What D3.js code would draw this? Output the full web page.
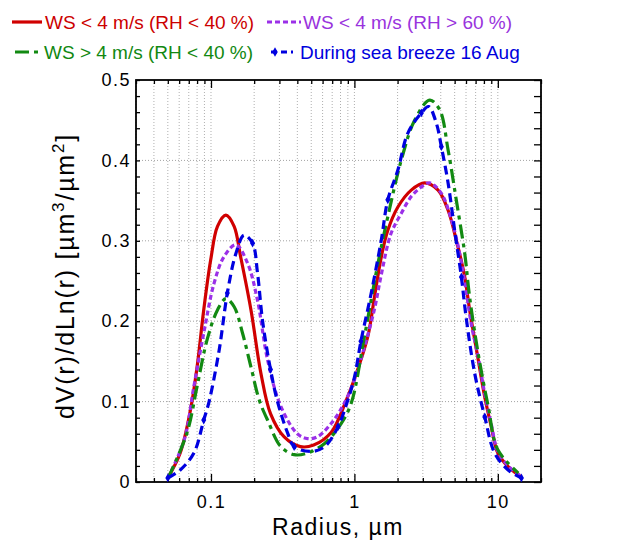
<!DOCTYPE html>
<html>
<head>
<meta charset="utf-8">
<script src="https://cdn.jsdelivr.net/npm/d3@7"></script>
<style>
  body { margin: 0; background: #fff; }
</style>
</head>
<body>
<svg id="chart" width="618" height="542"></svg>
<script>
// radius (um) and dV(r)/dLn(r), one pair of arrays per curve
const redR = [0.05, 0.061, 0.072, 0.080, 0.089, 0.0995, 0.111, 0.127, 0.145, 0.161, 0.19, 0.223, 0.26, 0.324, 0.42, 0.52, 0.69, 0.87, 1.0, 1.24, 1.38, 1.54, 1.71, 2.01, 2.49, 3.09, 3.83, 4.5, 5.13, 5.88, 6.36, 7.3, 8.1, 9.0, 10, 11.8, 14.6];
const redV = [0.005, 0.036, 0.090, 0.143, 0.214, 0.276, 0.318, 0.332, 0.318, 0.280, 0.214, 0.135, 0.085, 0.056, 0.044, 0.046, 0.062, 0.100, 0.128, 0.181, 0.230, 0.280, 0.313, 0.342, 0.363, 0.372, 0.363, 0.338, 0.301, 0.255, 0.214, 0.152, 0.106, 0.069, 0.036, 0.019, 0.006];

const purpleR = [0.05, 0.065, 0.076, 0.089, 0.105, 0.123, 0.149, 0.18, 0.211, 0.248, 0.307, 0.40, 0.47, 0.55, 0.69, 0.85, 1.0, 1.175, 1.38, 1.54, 1.8, 2.12, 2.49, 2.93, 3.35, 4.04, 4.75, 5.29, 5.9, 6.55, 7.3, 8.1, 9.0, 10, 11.8, 14.6];
const purpleV = [0.005, 0.052, 0.119, 0.185, 0.247, 0.280, 0.295, 0.272, 0.226, 0.152, 0.094, 0.060, 0.054, 0.056, 0.073, 0.098, 0.127, 0.168, 0.215, 0.258, 0.309, 0.334, 0.355, 0.367, 0.372, 0.359, 0.326, 0.293, 0.247, 0.195, 0.155, 0.110, 0.072, 0.038, 0.020, 0.007];

const greenR = [0.05, 0.068, 0.080, 0.094, 0.111, 0.127, 0.145, 0.166, 0.19, 0.217, 0.248, 0.307, 0.38, 0.47, 0.62, 0.81, 0.95, 1.175, 1.46, 1.71, 2.12, 2.63, 3.35, 3.93, 4.5, 5.13, 5.88, 6.36, 7.29, 8.57, 10, 13.9];
const greenV = [0.004, 0.061, 0.119, 0.177, 0.214, 0.228, 0.218, 0.185, 0.143, 0.102, 0.077, 0.044, 0.034, 0.036, 0.048, 0.073, 0.098, 0.181, 0.272, 0.330, 0.400, 0.450, 0.475, 0.463, 0.413, 0.351, 0.284, 0.230, 0.160, 0.094, 0.040, 0.011];

const blueR = [0.05, 0.061, 0.076, 0.089, 0.097, 0.114, 0.130, 0.149, 0.17, 0.195, 0.211, 0.229, 0.26, 0.291, 0.342, 0.38, 0.50, 0.62, 0.77, 0.90, 1.0, 1.11, 1.31, 1.54, 1.71, 2.01, 2.36, 2.93, 3.29, 3.73, 4.04, 4.5, 5.0, 5.57, 6.0, 6.9, 8.11, 9.5, 11.8, 14.6];
const blueV = [0.005, 0.015, 0.036, 0.077, 0.100, 0.164, 0.235, 0.284, 0.307, 0.297, 0.260, 0.200, 0.140, 0.100, 0.061, 0.044, 0.038, 0.044, 0.069, 0.102, 0.130, 0.175, 0.235, 0.301, 0.351, 0.388, 0.434, 0.459, 0.467, 0.446, 0.417, 0.372, 0.313, 0.255, 0.206, 0.135, 0.081, 0.036, 0.015, 0.005];

const seriesNames = ['WS < 4 m/s (RH < 40 %)', 'WS < 4 m/s (RH > 60 %)', 'WS > 4 m/s (RH < 40 %)', 'During sea breeze 16 Aug'];

const xMajor = [0.1, 1, 10];
const yMajor = [0, 0.1, 0.2, 0.3, 0.4, 0.5];

const series = [
  { name: seriesNames[0], r: redR, v: redV, color: '#d00000', dash: null, text: '#cc0000' },
  { name: seriesNames[1], r: purpleR, v: purpleV, color: '#9b30e8', dash: '5,3', text: '#9933dd' },
  { name: seriesNames[2], r: greenR, v: greenV, color: '#128a12', dash: '14,5,4,5', text: '#118811' },
  { name: seriesNames[3], r: blueR, v: blueV, color: '#0000e0', dash: '9,5', text: '#0000dd', markers: true }
];

const svg = d3.select('#chart');
const font = 'Liberation Sans, Arial, Helvetica, sans-serif';

const x = d3.scaleLog().domain([0.03, 20]).range([136, 541]);
const y = d3.scaleLinear().domain([0, 0.5]).range([482, 80]);

// minor ticks of the log axis
const xMinor = [];
[0.01, 0.1, 1, 10].forEach(dec => {
  for (let m = 2; m <= 9; m++) {
    const t = +(dec * m).toPrecision(3);
    if (t >= 0.03 && t <= 20) xMinor.push(t);
  }
});
const yMinor = d3.range(0, 0.501, 0.02).map(d => +d.toFixed(2));

// grid
svg.append('g')
  .selectAll('line')
  .data(xMinor.concat(xMajor))
  .join('line')
  .attr('x1', d => x(d)).attr('x2', d => x(d))
  .attr('y1', 80).attr('y2', 482)
  .attr('stroke', '#9a9a9a')
  .attr('stroke-width', 0.8)
  .attr('stroke-dasharray', '1,2');

svg.append('g')
  .selectAll('line')
  .data([0.1, 0.2, 0.3, 0.4])
  .join('line')
  .attr('x1', 136).attr('x2', 541)
  .attr('y1', d => y(d)).attr('y2', d => y(d))
  .attr('stroke', '#8a8a8a')
  .attr('stroke-width', 0.8)
  .attr('stroke-dasharray', '1,2');

// axes with inward ticks
const styleAxis = g => {
  g.select('.domain').remove();
  g.selectAll('line').attr('stroke', '#000').attr('stroke-width', 1.3);
  g.selectAll('text')
    .attr('font-family', font)
    .attr('font-size', '18px')
    .attr('letter-spacing', '1.5px')
    .attr('fill', '#000');
};

svg.append('g').attr('transform', 'translate(0,482)')
  .call(d3.axisBottom(x).tickValues(xMajor).tickFormat(d3.format('~g')).tickSize(-8).tickPadding(13))
  .call(styleAxis);
svg.append('g').attr('transform', 'translate(0,482)')
  .call(d3.axisBottom(x).tickValues(xMinor).tickFormat('').tickSize(-4))
  .call(styleAxis);
svg.append('g').attr('transform', 'translate(0,80)')
  .call(d3.axisTop(x).tickValues(xMajor).tickFormat('').tickSize(-8))
  .call(styleAxis);
svg.append('g').attr('transform', 'translate(0,80)')
  .call(d3.axisTop(x).tickValues(xMinor).tickFormat('').tickSize(-4))
  .call(styleAxis);

svg.append('g').attr('transform', 'translate(136,0)')
  .call(d3.axisLeft(y).tickValues(yMajor).tickFormat(d3.format('~g')).tickSize(0).tickPadding(5))
  .call(styleAxis);
svg.append('g').attr('transform', 'translate(136,0)')
  .call(d3.axisLeft(y).tickValues(yMinor).tickFormat('').tickSize(-4))
  .call(styleAxis);
svg.append('g').attr('transform', 'translate(541,0)')
  .call(d3.axisRight(y).tickValues(yMinor).tickFormat('').tickSize(-7))
  .call(styleAxis);

svg.append('rect')
  .attr('x', 136).attr('y', 80)
  .attr('width', 405).attr('height', 402)
  .attr('fill', 'none')
  .attr('stroke', '#000')
  .attr('stroke-width', 1.8);

// curves
const line = d3.line()
  .x(d => x(d[0]))
  .y(d => y(d[1]))
  .curve(d3.curveCatmullRom.alpha(0.5));

series.forEach(s => {
  const pts = s.r.map((r, i) => [r, s.v[i]]);
  svg.append('path')
    .datum(pts)
    .attr('d', line)
    .attr('fill', 'none')
    .attr('stroke', s.color)
    .attr('stroke-width', 3.2)
    .attr('stroke-dasharray', s.dash);
  if (s.markers) {
    svg.append('g')
      .selectAll('path')
      .data(pts.filter((d, i) => i % 3 === 0))
      .join('path')
      .attr('transform', d => `translate(${x(d[0])},${y(d[1])})`)
      .attr('d', d3.symbol(d3.symbolDiamond, 22))
      .attr('fill', s.color);
  }
});

// legend
const legendPos = [
  { x1: 12, x2: 42, tx: 45, ly: 22, ty: 29 },
  { x1: 267, x2: 301, tx: 303, ly: 22, ty: 29 },
  { x1: 15, x2: 40, tx: 44, ly: 52, ty: 59 },
  { x1: 271, x2: 293, tx: 300, ly: 52, ty: 59 }
];

const entries = svg.append('g')
  .selectAll('g')
  .data(series)
  .join('g');

entries.append('line')
  .attr('x1', (d, i) => legendPos[i].x1)
  .attr('x2', (d, i) => legendPos[i].x2)
  .attr('y1', (d, i) => legendPos[i].ly)
  .attr('y2', (d, i) => legendPos[i].ly)
  .attr('stroke', d => d.color)
  .attr('stroke-width', 3.2)
  .attr('stroke-dasharray', d => d.dash ? (d.markers ? '6,4' : d.dash) : null);

entries.filter(d => d.markers)
  .append('path')
  .attr('transform', `translate(${legendPos[3].x1 + 4},${legendPos[3].ly})`)
  .attr('d', d3.symbol(d3.symbolDiamond, 26))
  .attr('fill', d => d.color);

entries.append('text')
  .attr('x', (d, i) => legendPos[i].tx)
  .attr('y', (d, i) => legendPos[i].ty)
  .attr('font-family', font)
  .attr('font-size', '19px')
  .attr('fill', d => d.text)
  .text(d => d.name);

// axis titles
svg.append('text')
  .attr('x', 338)
  .attr('y', 535)
  .attr('text-anchor', 'middle')
  .attr('font-family', font)
  .attr('font-size', '23px')
  .attr('letter-spacing', '1.5px')
  .text('Radius, \u00b5m');

const yTitle = svg.append('text')
  .attr('transform', 'translate(74,276) rotate(-90)')
  .attr('text-anchor', 'middle')
  .attr('font-family', font)
  .attr('font-size', '25px')
  .attr('letter-spacing', '1.8px');
yTitle.append('tspan').text('dV(r)/dLn(r) [\u00b5m');
yTitle.append('tspan').attr('font-size', '17px').attr('dy', -10).text('3');
yTitle.append('tspan').attr('dy', 10).text('/\u00b5m');
yTitle.append('tspan').attr('font-size', '17px').attr('dy', -10).text('2');
yTitle.append('tspan').attr('dy', 10).text(']');
</script>
</body>
</html>
